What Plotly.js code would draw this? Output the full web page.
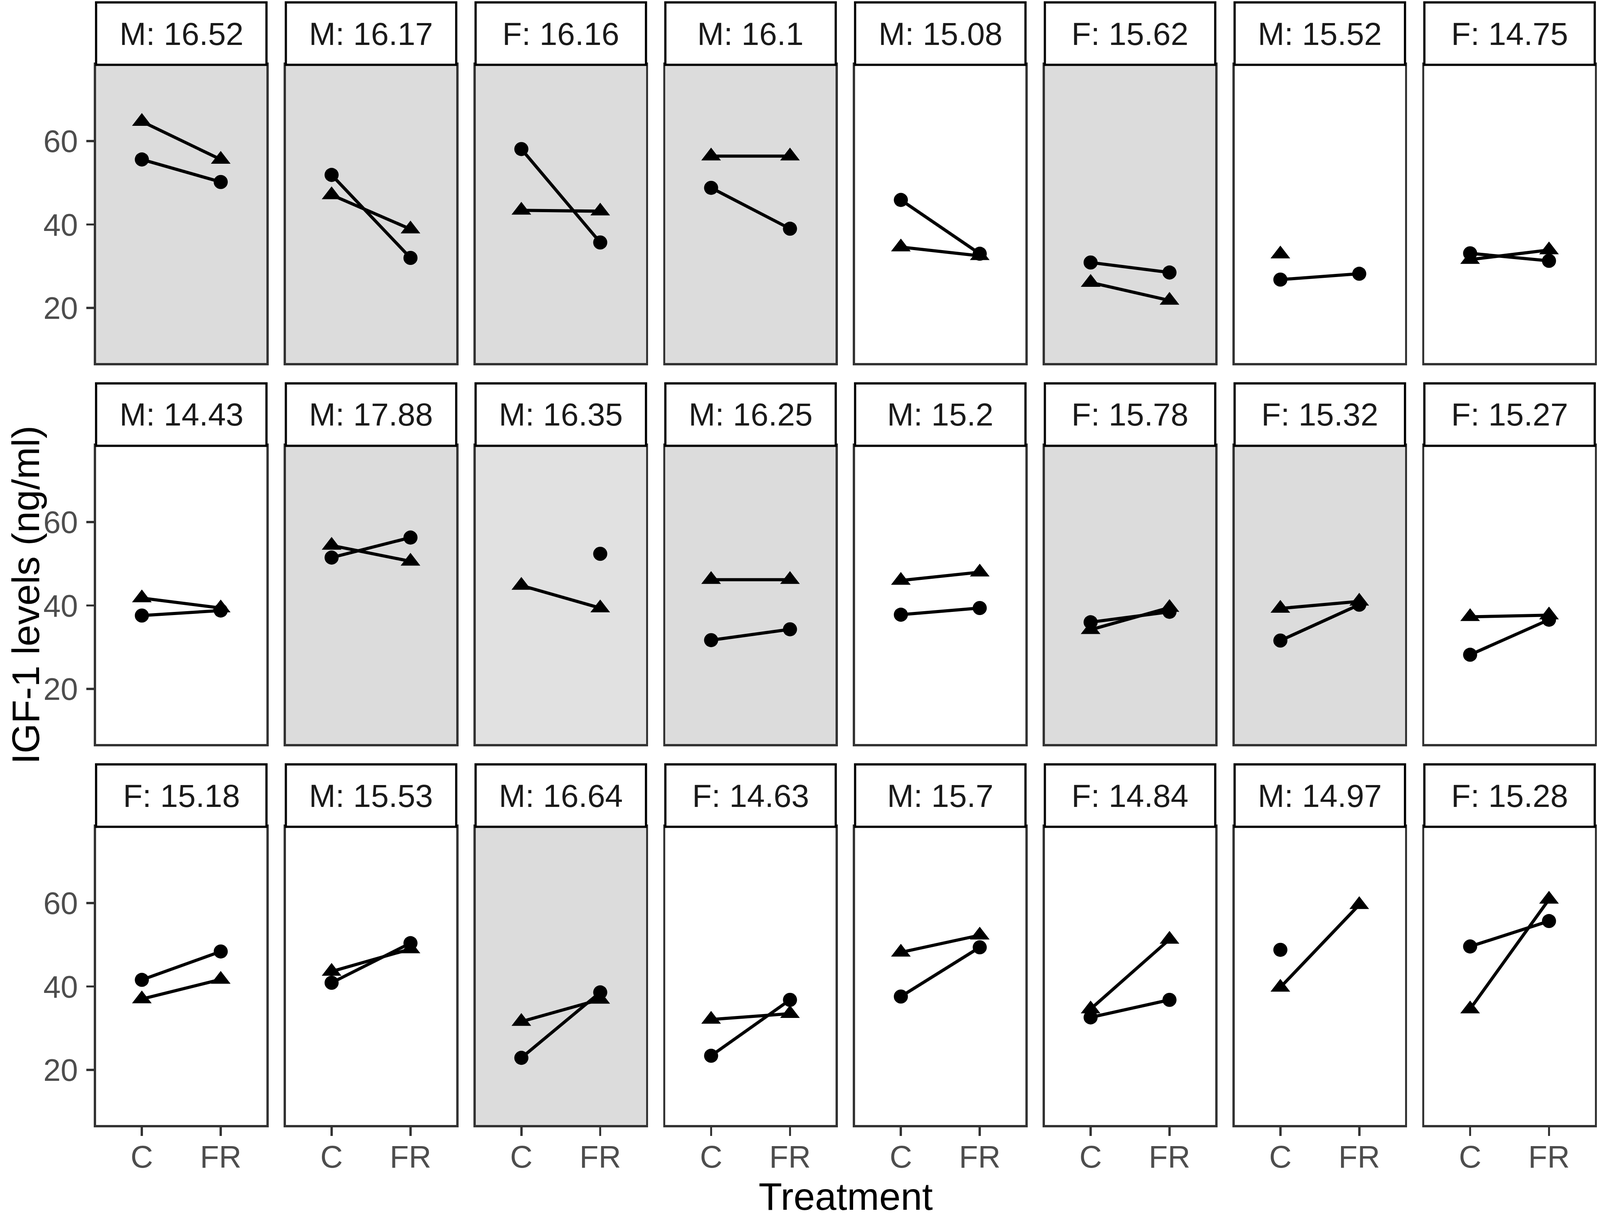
<!DOCTYPE html>
<html>
<head>
<meta charset="utf-8">
<script src="https://cdn.plot.ly/plotly-3.0.1.min.js"></script>
<style>html,body{margin:0;padding:0;background:#fff;overflow:hidden}</style>
</head>
<body>
<div id="chart"></div>
<script>
// facet labels, left to right, top to bottom
var panel_labels = [
    'M: 16.52', 'M: 16.17', 'F: 16.16', 'M: 16.1', 'M: 15.08', 'F: 15.62', 'M: 15.52', 'F: 14.75',
    'M: 14.43', 'M: 17.88', 'M: 16.35', 'M: 16.25', 'M: 15.2', 'F: 15.78', 'F: 15.32', 'F: 15.27',
    'F: 15.18', 'M: 15.53', 'M: 16.64', 'F: 14.63', 'M: 15.7', 'F: 14.84', 'M: 14.97', 'F: 15.28'
];
// panel background group: 0 = white, 1 = grey, 2 = light grey
var panel_group = [
    1, 1, 1, 1, 0, 1, 0, 0,
    0, 1, 2, 1, 0, 1, 1, 0,
    0, 0, 1, 0, 0, 0, 0, 0
];
var treatments = ['C', 'FR'];

// IGF-1 (ng/ml), circle series
var circle_C = [
    55.6, 51.9, 58.1, 48.8, 45.9, 30.9, 26.8, 33.1,
    37.6, 51.5, null, 31.7, 37.8, 36.0, 31.6, 28.2,
    41.6, 40.9, 22.9, 23.4, 37.6, 32.6, 48.8, 49.6
];
var circle_FR = [
    50.2, 32.0, 35.7, 39.0, 33.0, 28.5, 28.2, 31.3,
    38.8, 56.3, 52.4, 34.3, 39.4, 38.5, 40.2, 36.6,
    48.4, 50.4, 38.6, 36.8, 49.4, 36.8, null, 55.7
];
// IGF-1 (ng/ml), triangle series
var triangle_C = [
    64.7, 47.1, 43.4, 56.4, 34.6, 26.1, 32.9, 31.6,
    41.8, 54.4, 44.8, 46.2, 46.0, 34.2, 39.3, 37.3,
    37.0, 43.6, 31.6, 32.1, 48.2, 34.6, 39.8, 34.6
];
var triangle_FR = [
    55.6, 38.9, 43.2, 56.4, 32.5, 21.8, null, 33.9,
    39.4, 50.6, 39.4, 46.2, 48.0, 39.5, 41.0, 37.7,
    41.7, 49.0, 36.9, 33.5, 52.3, 51.3, 59.6, 60.9
];

// the design is 4550 x 3117; stretch it over the real viewport
var vw = window.innerWidth || 4550, vh = window.innerHeight || 3117;
var sx = vw / 4550, sy = vh / 3117, sa = Math.sqrt(sx * sy);
var W = vw, H = vh;
var m = {l: 273 * sx, r: 14 * sx, t: 6 * sy, b: 238 * sy};
var plotW = W - m.l - m.r, plotH = H - m.t - m.b;
var panelW = 484.6 * sx, gapW = 55.1 * sx;
var panelH = 763.2 * sy, stripH = 159.6 * sy, gapH = 52.2 * sy;
var nCol = 8, nRow = 3;
var fontFam = 'Liberation Sans, Arial, sans-serif';
var bgColors = ['rgba(0,0,0,0)', '#dcdcdc', '#e1e1e1'];

var traces = [];
var layout = {
    width: W,
    height: H,
    margin: m,
    showlegend: false,
    hovermode: false,
    paper_bgcolor: '#ffffff',
    plot_bgcolor: 'rgba(0,0,0,0)',
    font: {family: fontFam},
    shapes: [],
    annotations: []
};

for (var i = 0; i < panel_labels.length; i++) {
    var row = Math.floor(i / nCol), col = i % nCol;
    var n = i + 1;
    var xs = 'x' + n, ys = 'y' + n;
    var x0 = col * (panelW + gapW) / plotW;
    var x1 = x0 + panelW / plotW;
    var y0 = (nRow - 1 - row) * (panelH + stripH + gapH) / plotH;
    var y1 = y0 + panelH / plotH;
    var yTop = y1 + stripH / plotH;

    traces.push({
        x: treatments, y: [circle_C[i], circle_FR[i]],
        xaxis: xs, yaxis: ys,
        mode: 'lines+markers',
        line: {color: '#000000', width: 8.5 * sa},
        marker: {symbol: 'circle', size: 38 * sa, color: '#000000', line: {width: 0}}
    });
    traces.push({
        x: treatments, y: [triangle_C[i], triangle_FR[i]],
        xaxis: xs, yaxis: ys,
        mode: 'lines+markers',
        line: {color: '#000000', width: 8.5 * sa},
        marker: {symbol: 'triangle-up', size: 46 * sa, color: '#000000', line: {width: 0}}
    });

    var bottom = (row === nRow - 1), left = (col === 0);
    layout[n === 1 ? 'xaxis' : 'xaxis' + n] = {
        domain: [x0, x1], anchor: ys,
        type: 'category', categoryarray: treatments,
        range: [-0.58, 1.58],
        showgrid: false, zeroline: false,
        showline: true, mirror: true, linecolor: '#333333', linewidth: 6 * sa,
        ticks: bottom ? 'outside' : '', ticklen: 22 * sy, tickwidth: 6 * sa, tickcolor: '#333333',
        showticklabels: bottom, ticklabelstandoff: Math.round(-14 * sy),
        tickfont: {size: 84 * sa, color: '#4d4d4d', family: fontFam}
    };
    layout[n === 1 ? 'yaxis' : 'yaxis' + n] = {
        domain: [y0, y1], anchor: xs,
        range: [6.8, 78.3],
        tickvals: [20, 40, 60],
        showgrid: false, zeroline: false,
        showline: true, mirror: true, linecolor: '#333333', linewidth: 6 * sa,
        ticks: left ? 'outside' : '', ticklen: 22 * sx, tickwidth: 6 * sa, tickcolor: '#333333',
        showticklabels: left, ticklabelstandoff: Math.round(6 * sx),
        tickfont: {size: 84 * sa, color: '#4d4d4d', family: fontFam}
    };

    if (panel_group[i] > 0) {
        layout.shapes.push({
            type: 'rect', xref: 'paper', yref: 'paper', layer: 'below',
            x0: x0, x1: x1, y0: y0, y1: y1,
            fillcolor: bgColors[panel_group[i]], line: {width: 0}
        });
    }
    // strip
    layout.shapes.push({
        type: 'rect', xref: 'paper', yref: 'paper', layer: 'above',
        x0: x0, x1: x1, y0: y1, y1: yTop,
        fillcolor: '#ffffff', line: {color: '#000000', width: 6 * sa}
    });
    layout.annotations.push({
        text: panel_labels[i], xref: 'paper', yref: 'paper',
        x: (x0 + x1) / 2, y: (y1 + yTop) / 2,
        xanchor: 'center', yanchor: 'middle', showarrow: false,
        font: {size: 86 * sa, color: '#1a1a1a', family: fontFam}
    });
}

var topPanel = ((nRow - 1) * (panelH + stripH + gapH) + panelH) / plotH;
layout.annotations.push({
    text: 'IGF-1 levels (ng/ml)', xref: 'paper', yref: 'paper',
    x: -200 * sx / plotW, y: topPanel / 2, textangle: -90,
    xanchor: 'center', yanchor: 'middle', showarrow: false,
    font: {size: 104 * sa, color: '#000000', family: fontFam}
});
layout.annotations.push({
    text: 'Treatment', xref: 'paper', yref: 'paper',
    x: 0.5, y: -183 * sy / plotH,
    xanchor: 'center', yanchor: 'middle', showarrow: false,
    height: 80 * sy,
    font: {size: 104 * sa, color: '#000000', family: fontFam}
});

Plotly.newPlot('chart', traces, layout, {staticPlot: true});
</script>
</body>
</html>
